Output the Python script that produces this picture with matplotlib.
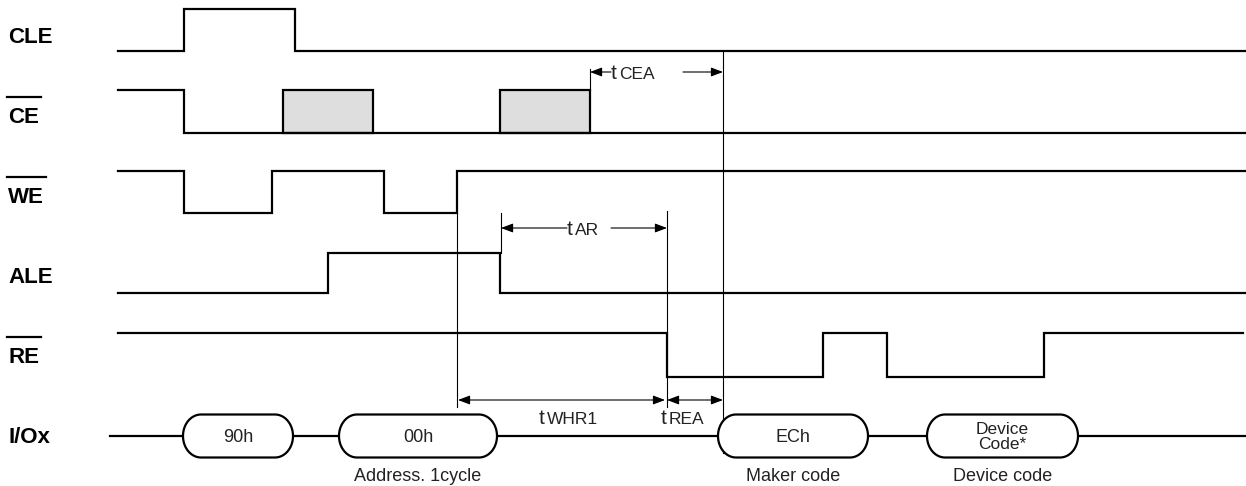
import matplotlib
matplotlib.use("Agg")
import matplotlib.pyplot as plt
import numpy as np

plt.rcParams["font.family"] = ["Liberation Sans", "DejaVu Sans"]

# ---- timing data (x in diagram time units, left to right) ----
X_START = 118
X_END = 1245

SIGNAL_NAMES = ["CLE", "CE", "WE", "ALE", "RE"]
SIGNAL_BAR = [False, True, True, False, True]
SIGNAL_HIGH_Y = [9, 90, 171, 253, 333]
SIGNAL_LOW_Y = [51, 133, 213, 293, 377]
SIGNAL_INIT = [0, 1, 1, 0, 1]
SIGNAL_EDGES = [
    [184, 295],
    [184],
    [184, 272, 384, 457],
    [328, 500],
    [667, 823, 887, 1044],
]
SIGNAL_END = [1245, 1245, 1245, 1245, 1243]
LABEL_Y = [43, 123, 203, 283, 363]

CE_DONT_CARE = [(283, 373), (500, 590)]

IO_Y = 436
IO_START = 110
IO_BOXES = [(183, 293), (339, 497), (718, 868), (927, 1078)]
IO_TEXT = ["90h", "00h", "ECh", "Device\nCode*"]
IO_CAPTION = ["", "Address. 1cycle", "Maker code", "Device code"]

# reference verticals: (x, y_top, y_bottom)
GUIDES = [(723, 51, 453), (457, 213, 407), (667, 211, 407), (501, 213, 253), (590, 69, 90)]

# timing parameters: (subscript, x_from, x_to, y, text_x, kind, gap_start, gap_end)
TIMINGS = [
    ("CEA", 590, 723, 72, 611, "split", 611, 683),
    ("AR", 501, 667, 228, 567, "split", 567, 611),
    ("WHR1", 458, 665, 400, 539, "double", None, None),
    ("REA", 667, 723, 400, 661, "double", None, None),
]

fig = plt.figure(figsize=(12.46, 4.86), dpi=100)
ax = fig.add_axes([0, 0, 1, 1])
ax.set_xlim(0, 1246)
ax.set_ylim(486, 0)
ax.axis("off")

SIG_LW = 1.6
THIN_LW = 0.8

# don't-care areas on CE
for x0, x1 in CE_DONT_CARE:
    ax.fill([x0, x1, x1, x0], [SIGNAL_HIGH_Y[1], SIGNAL_HIGH_Y[1], SIGNAL_LOW_Y[1], SIGNAL_LOW_Y[1]],
            facecolor="#dedede", edgecolor="black", lw=SIG_LW, zorder=2)

# square waves
for name, bar, hy, ly, init, edges, xend, lab_y in zip(
        SIGNAL_NAMES, SIGNAL_BAR, SIGNAL_HIGH_Y, SIGNAL_LOW_Y, SIGNAL_INIT,
        SIGNAL_EDGES, SIGNAL_END, LABEL_Y):
    level = init
    xs, ys = [X_START], [hy if level else ly]
    for e in edges:
        xs += [e, e]
        ys += [hy if level else ly]
        level = 1 - level
        ys += [hy if level else ly]
    xs.append(xend)
    ys.append(hy if level else ly)
    ax.plot(xs, ys, color="black", lw=SIG_LW, solid_joinstyle="miter", zorder=3)
    ax.text(8, lab_y, name, fontsize=16, fontweight="bold", va="baseline", ha="left")
    if bar:
        w = 34 if name != "WE" else 39
        ax.plot([7, 7 + w], [lab_y - 26, lab_y - 26], color="black", lw=1.6)

ax.text(8, 443, "I/Ox", fontsize=16, fontweight="bold", va="baseline", ha="left")

# guide lines
for gx, y0, y1 in GUIDES:
    ax.plot([gx, gx], [y0, y1], color="black", lw=THIN_LW, zorder=1)

# I/O bus with rounded data boxes
prev = IO_START
for (x0, x1), txt, cap in zip(IO_BOXES, IO_TEXT, IO_CAPTION):
    ax.plot([prev, x0], [IO_Y, IO_Y], color="black", lw=SIG_LW, zorder=2)
    t = np.linspace(-np.pi / 2, np.pi / 2, 40)
    r, h = 18, 21.5
    xs = np.concatenate([x1 - r + r * np.cos(t), x0 + r - r * np.cos(t)])
    ys = np.concatenate([IO_Y + h * np.sin(t), IO_Y - h * np.sin(t)])
    ax.fill(xs, ys, facecolor="white", edgecolor="black", lw=SIG_LW, zorder=3)
    xc = (x0 + x1) / 2
    ax.text(xc, IO_Y + 1, txt, fontsize=13 if "\n" not in txt else 12.5, ha="center", va="center",
            linespacing=0.95, color="#222222", zorder=4)
    if cap:
        ax.text(xc, 476, cap, fontsize=13, ha="center", va="center", color="#222222")
    prev = x1
ax.plot([prev, X_END], [IO_Y, IO_Y], color="black", lw=SIG_LW, zorder=2)

# timing arrows
head = "-|>,head_length=0.45,head_width=0.17"
for name, xa, xb, y, tx, kind, gap0, gap1 in TIMINGS:
    ap = dict(arrowstyle=head, color="black", lw=THIN_LW, shrinkA=0, shrinkB=0, mutation_scale=16)
    if kind == "split":
        ax.annotate("", xy=(xa, y), xytext=(gap0, y), arrowprops=ap)
        ax.annotate("", xy=(xb, y), xytext=(gap1, y), arrowprops=ap)
        base = y + 7
    else:
        ap2 = dict(ap, arrowstyle="<|-|>,head_length=0.45,head_width=0.17")
        ax.annotate("", xy=(xb, y), xytext=(xa, y), arrowprops=ap2)
        base = y + 24
    ax.text(tx, base, "t", fontsize=15, va="baseline", ha="left", color="#222222")
    ax.text(tx + 8, base, name, fontsize=12.5, va="baseline", ha="left", color="#222222")

fig.savefig("out.png", dpi=100)
